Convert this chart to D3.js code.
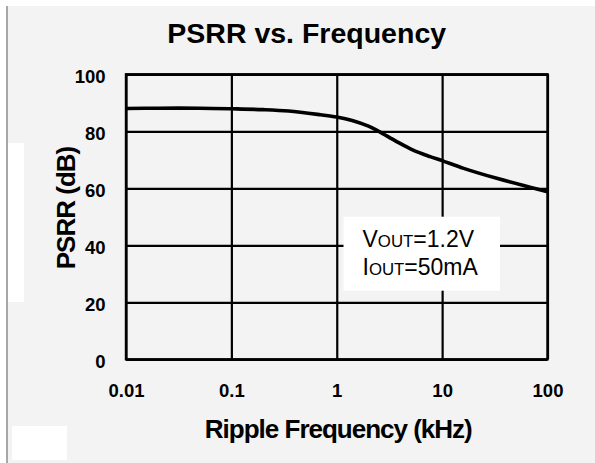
<!DOCTYPE html>
<html>
<head>
<meta charset="utf-8">
<script src="https://cdn.jsdelivr.net/npm/d3@7/dist/d3.min.js"></script>
<style>
  html, body { margin: 0; padding: 0; background: #ffffff; }
  svg { display: block; }
  text { font-family: "Liberation Sans", Arial, sans-serif; fill: #000; }
</style>
</head>
<body>
<svg id="chart" width="595" height="463"></svg>
<script>
// ---- data ----
const freqKHz = [0.01, 0.02, 0.05, 0.1, 0.2, 0.35, 0.7, 1, 1.4, 2, 2.5, 3.7, 5.3, 7.7, 10, 16, 33, 68, 100];
const psrrDb  = [88.0, 88.1, 88.1, 87.9, 87.6, 87.1, 85.8, 85.0, 83.8, 81.8, 80.0, 76.4, 73.4, 71.1, 69.7, 67.0, 63.5, 60.4, 58.8];
const xTicks = [0.01, 0.1, 1, 10, 100];
const xTickLabels = ["0.01", "0.1", "1", "10", "100"];
const yTicks = [0, 20, 40, 60, 80, 100];
const titleText = "PSRR vs. Frequency";
const xTitle = "Ripple Frequency (kHz)";
const yTitle = "PSRR (dB)";

const svg = d3.select("#chart");

// background panel
svg.append("rect").attr("x", 7).attr("y", 6).attr("width", 588).attr("height", 457).attr("fill", "#f3f3f3");
svg.append("line").attr("x1", 7).attr("x2", 7).attr("y1", 6).attr("y2", 463)
  .attr("stroke", "#8c8c8c").attr("stroke-width", 1.5);
// white patches present in the reference
svg.append("rect").attr("x", 8).attr("y", 143).attr("width", 16).attr("height", 159).attr("fill", "#ffffff");
svg.append("rect").attr("x", 12).attr("y", 426).attr("width", 55).attr("height", 34).attr("fill", "#ffffff");

const L = 126, R = 547.5, T = 74.3, B = 359.3;
const x = d3.scaleLog().domain([0.01, 100]).range([L, R]);
const y = d3.scaleLinear().domain([0, 100]).range([B, T]);

// x axis with gridlines
const gx = svg.append("g").attr("transform", `translate(0,${B})`)
  .call(d3.axisBottom(x).tickValues(xTicks)
    .tickFormat((d, i) => xTickLabels[i])
    .tickSizeInner(-(B - T)).tickSizeOuter(0).tickPadding(24.3));
gx.select(".domain").remove();
gx.selectAll(".tick line").attr("stroke", "#000").attr("stroke-width", 2.2);
gx.selectAll(".tick text").attr("font-size", 18.5).attr("font-weight", "bold")
  .attr("font-family", "Liberation Sans, Arial, sans-serif").attr("fill", "#000");

// y axis with gridlines
const gy = svg.append("g").attr("transform", `translate(${L},0)`)
  .call(d3.axisLeft(y).tickValues(yTicks)
    .tickSizeInner(-(R - L)).tickSizeOuter(0).tickPadding(20.5));
gy.select(".domain").remove();
gy.selectAll(".tick line").attr("stroke", "#000").attr("stroke-width", 2.2);
gy.selectAll(".tick text").attr("font-size", 18.5).attr("font-weight", "bold")
  .attr("dy", "0.43em")
  .attr("font-family", "Liberation Sans, Arial, sans-serif").attr("fill", "#000");

// frame
svg.append("rect").attr("x", L).attr("y", T).attr("width", R - L).attr("height", B - T)
  .attr("fill", "none").attr("stroke", "#000").attr("stroke-width", 2.4);

// curve
const line = d3.line().x((d, i) => x(freqKHz[i])).y(d => y(d)).curve(d3.curveCatmullRom.alpha(0.5));
svg.append("path").datum(psrrDb).attr("d", line)
  .attr("fill", "none").attr("stroke", "#000").attr("stroke-width", 3.6)
  .attr("stroke-linejoin", "round");

// annotation box
svg.append("rect").attr("x", 343.5).attr("y", 216.7).attr("width", 156.5).attr("height", 74)
  .attr("fill", "#ffffff");
const a1 = svg.append("text").attr("x", 362.5).attr("y", 246.7).attr("font-size", 23);
a1.append("tspan").text("V");
a1.append("tspan").attr("font-size", 16.8).text("OUT");
a1.append("tspan").text("=1.2V");
const a2 = svg.append("text").attr("x", 362.5).attr("y", 275).attr("font-size", 23);
a2.append("tspan").text("I");
a2.append("tspan").attr("font-size", 16.8).text("OUT");
a2.append("tspan").text("=50mA");

// titles
svg.append("text").attr("x", 306.7).attr("y", 43.3).attr("text-anchor", "middle")
  .attr("font-size", 28.5).attr("font-weight", "bold").text(titleText);
svg.append("text").attr("x", 338.3).attr("y", 438.3).attr("text-anchor", "middle")
  .attr("font-size", 26).attr("font-weight", "bold").attr("letter-spacing", -1).text(xTitle);
svg.append("text").attr("transform", "translate(74.5,208) rotate(-90)").attr("text-anchor", "middle")
  .attr("font-size", 26).attr("font-weight", "bold").attr("letter-spacing", -1).text(yTitle);
</script>
</body>
</html>
